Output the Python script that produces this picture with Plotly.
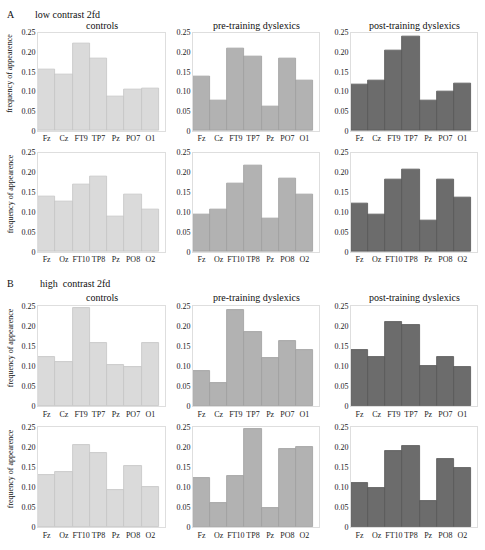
import plotly.graph_objects as go

# electrode labels (left / right hemisphere panels)
sites_left = ['Fz', 'Cz', 'FT9', 'TP7', 'Pz', 'PO7', 'O1']
sites_right = ['Fz', 'Oz', 'FT10', 'TP8', 'Pz', 'PO8', 'O2']

groups = ['controls', 'pre-training dyslexics', 'post-training dyslexics']

# A: low contrast 2fd
low_left_controls = [0.156, 0.144, 0.222, 0.185, 0.088, 0.104, 0.108]
low_left_pre = [0.138, 0.077, 0.210, 0.189, 0.062, 0.185, 0.128]
low_left_post = [0.117, 0.127, 0.203, 0.241, 0.077, 0.101, 0.120]
low_right_controls = [0.140, 0.127, 0.170, 0.190, 0.089, 0.145, 0.107]
low_right_pre = [0.095, 0.106, 0.172, 0.217, 0.084, 0.184, 0.144]
low_right_post = [0.121, 0.094, 0.181, 0.207, 0.078, 0.181, 0.137]

# B: high contrast 2fd
high_left_controls = [0.123, 0.110, 0.245, 0.158, 0.103, 0.099, 0.159]
high_left_pre = [0.089, 0.059, 0.240, 0.185, 0.120, 0.164, 0.140]
high_left_post = [0.140, 0.123, 0.209, 0.203, 0.100, 0.124, 0.098]
high_right_controls = [0.131, 0.139, 0.204, 0.185, 0.094, 0.153, 0.100]
high_right_pre = [0.122, 0.061, 0.128, 0.245, 0.049, 0.195, 0.200]
high_right_post = [0.110, 0.097, 0.190, 0.203, 0.065, 0.171, 0.149]

y_ticks = [0, 0.05, 0.10, 0.15, 0.20, 0.25]
y_tick_text = ['0', '0.05', '0.10', '0.15', '0.20', '0.25']

W, H = 485, 550
FONT = 'Liberation Serif'

fills = ['rgb(218,218,218)', 'rgb(178,178,178)', 'rgb(108,108,108)']
edges = ['rgb(196,196,196)', 'rgb(158,158,158)', 'rgb(88,88,88)']

# panel boxes in pixels
col_px = [(38, 165), (193, 319), (351, 477)]
row_px = [(29, 129), (151, 252), (307, 409), (430, 532)]

rows = [
    (sites_left, [low_left_controls, low_left_pre, low_left_post]),
    (sites_right, [low_right_controls, low_right_pre, low_right_post]),
    (sites_left, [high_left_controls, high_left_pre, high_left_post]),
    (sites_right, [high_right_controls, high_right_pre, high_right_post]),
]

fig = go.Figure()
layout = {}
n = 0
for r, (sites, series) in enumerate(rows):
    for c, vals in enumerate(series):
        n += 1
        xa = 'x' if n == 1 else f'x{n}'
        ya = 'y' if n == 1 else f'y{n}'
        fig.add_trace(go.Bar(
            x=sites, y=vals, xaxis=xa, yaxis=ya,
            marker=dict(color=fills[c], line=dict(color=edges[c], width=0.8)),
            showlegend=False,
        ))
        x0, x1 = col_px[c]
        y0, y1 = row_px[r]
        key = '' if n == 1 else str(n)
        layout['xaxis' + key] = dict(
            domain=[x0 / W, x1 / W], anchor=ya, range=[-0.5, 6.85],
            type='category', showline=True, mirror=True,
            linecolor='rgb(222,222,222)', linewidth=1, ticks='',
            showgrid=False, zeroline=False, tickangle=0,
            tickfont=dict(family=FONT, size=8, color='#222'),
        )
        layout['yaxis' + key] = dict(
            domain=[1 - y1 / H, 1 - y0 / H], anchor=xa, range=[0, 0.25],
            tickmode='array', tickvals=y_ticks, ticktext=y_tick_text,
            showline=True, mirror=True, linecolor='rgb(222,222,222)',
            linewidth=1, ticks='', showgrid=False, zeroline=False,
            tickfont=dict(family=FONT, size=8, color='#222'),
        )

fig.update_layout(**layout)

annotations = []


def px_note(text, x, y, size=10, xanchor='center', angle=0):
    annotations.append(dict(
        text=text, x=x / W, y=1 - y / H, xref='paper', yref='paper',
        showarrow=False, xanchor=xanchor, yanchor='middle', textangle=angle,
        font=dict(family=FONT, size=size, color='#111'),
    ))


# section headers
px_note('A', 5, 11, xanchor='left')
px_note('low contrast 2fd', 33, 11, xanchor='left')
px_note('B', 5, 284, xanchor='left')
px_note('high\u00a0 contrast 2fd', 38, 284, xanchor='left')

# group titles above rows 1 and 3
for title_y in (22, 298):
    for c, g in enumerate(groups):
        px_note(g, (col_px[c][0] + col_px[c][1]) / 2, title_y)

# y labels on the first column
for (y0, y1) in row_px:
    px_note('frequency of appearence', 10, (y0 + y1) / 2 - 8, size=8, angle=-90)

fig.update_layout(
    width=W, height=H,
    margin=dict(l=0, r=0, t=0, b=0),
    paper_bgcolor='white', plot_bgcolor='white',
    bargap=0,
    annotations=annotations,
    font=dict(family=FONT),
)

# drop the browser's default body margin so the figure sits at the page corner
fig.write_html("out.html", config={'displayModeBar': False},
               post_script="document.body.style.margin='0';")
